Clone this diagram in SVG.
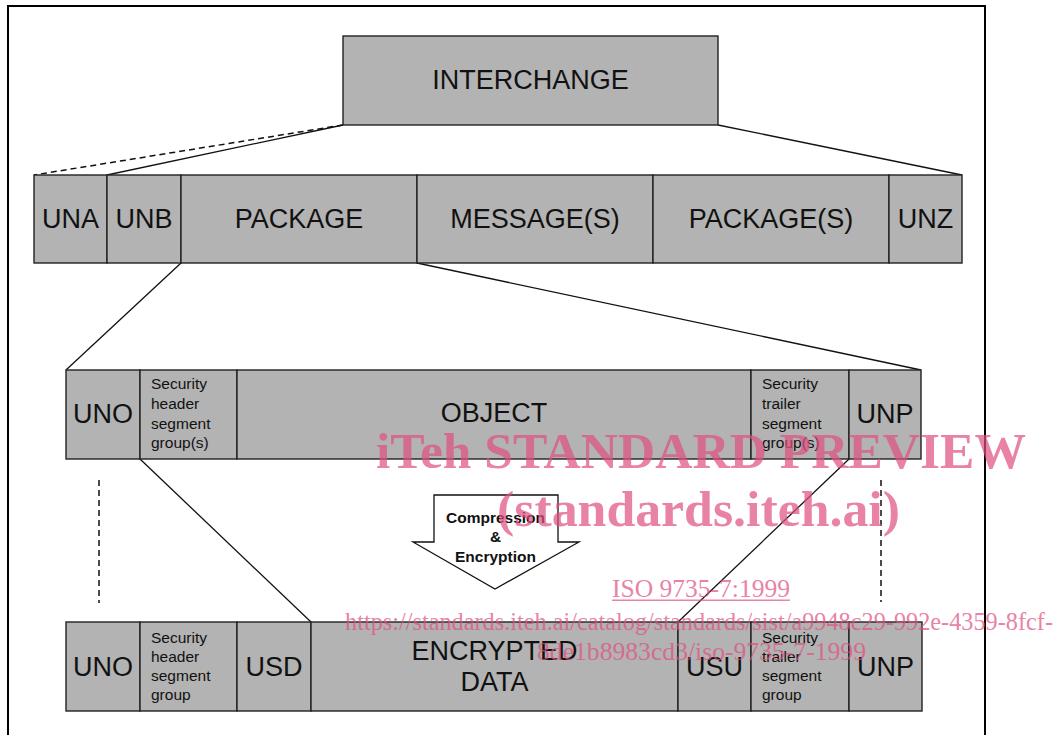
<svg xmlns="http://www.w3.org/2000/svg" width="1056" height="735" viewBox="0 0 1056 735">
<style>
.b{fill:#b3b3b3;stroke:#222;stroke-width:1.4}
.L{font-family:"Liberation Sans",Arial,sans-serif;font-size:27px;fill:#111;text-anchor:middle}
.s{font-family:"Liberation Sans",Arial,sans-serif;font-size:15.5px;fill:#111}
.c{stroke:#111;stroke-width:1.3;fill:none}
.d{stroke:#111;stroke-width:1.5;fill:none;stroke-dasharray:6,4}
.w{font-family:"Liberation Serif","Times New Roman",serif;fill:#e0507f;opacity:0.7}
</style>
<rect width="1056" height="735" fill="#fff"/>
<path d="M8,740 V6 H985 V740" fill="none" stroke="#000" stroke-width="2"/>

<g id="connectors">
<path class="d" d="M343,125 L34,175"/>
<path class="c" d="M343,125 L107,175"/>
<path class="c" d="M718,125 L962,175"/>
<path class="c" d="M181,263 L66,370"/>
<path class="c" d="M417,263 L921,370"/>
<path class="c" d="M140,459 L311,622"/>
<path class="c" d="M849,459 L678,622"/>
<path class="d" d="M99,480 V603"/>
<path class="d" d="M881,480 V602"/>
</g>

<g id="interchange"><rect class="b" x="343" y="36" width="375" height="89"/><text class="L" x="530.5" y="89">INTERCHANGE</text></g>

<g id="una"><rect class="b" x="34" y="175" width="73" height="88"/><text class="L" x="70.5" y="228">UNA</text></g>
<g id="unb"><rect class="b" x="107" y="175" width="74" height="88"/><text class="L" x="144" y="228">UNB</text></g>
<g id="package"><rect class="b" x="181" y="175" width="236" height="88"/><text class="L" x="299" y="228">PACKAGE</text></g>
<g id="messages"><rect class="b" x="417" y="175" width="236" height="88"/><text class="L" x="535" y="228">MESSAGE(S)</text></g>
<g id="packages"><rect class="b" x="653" y="175" width="236" height="88"/><text class="L" x="771" y="228">PACKAGE(S)</text></g>
<g id="unz"><rect class="b" x="889" y="175" width="73" height="88"/><text class="L" x="925.5" y="228">UNZ</text></g>

<g id="uno1"><rect class="b" x="66" y="370" width="74" height="89"/><text class="L" x="103" y="423">UNO</text></g>
<g id="sechdr1"><rect class="b" x="140" y="370" width="97" height="89"/><text class="s"><tspan x="151" y="389">Security</tspan><tspan x="151" y="409">header</tspan><tspan x="151" y="429">segment</tspan><tspan x="151" y="448">group(s)</tspan></text></g>
<g id="object"><rect class="b" x="237" y="370" width="514" height="89"/><text class="L" x="494" y="422">OBJECT</text></g>
<g id="sectrl1"><rect class="b" x="751" y="370" width="98" height="89"/><text class="s"><tspan x="762" y="389">Security</tspan><tspan x="762" y="409">trailer</tspan><tspan x="762" y="429">segment</tspan><tspan x="762" y="448">group(s)</tspan></text></g>
<g id="unp1"><rect class="b" x="849" y="370" width="72" height="89"/><text class="L" x="885" y="423">UNP</text></g>

<g id="arrow"><path d="M434,495 H558 V542 H579 L495,589 L413,542 H434 Z" fill="#fff" stroke="#111" stroke-width="1.3"/>
<text font-family="Liberation Sans,Arial,sans-serif" font-size="15.5" font-weight="bold" fill="#111" text-anchor="middle"><tspan x="495.5" y="523">Compression</tspan><tspan x="495.5" y="542">&amp;</tspan><tspan x="495.5" y="561.5">Encryption</tspan></text></g>

<g id="uno2"><rect class="b" x="66" y="622" width="74" height="89"/><text class="L" x="103" y="676">UNO</text></g>
<g id="sechdr2"><rect class="b" x="140" y="622" width="97" height="89"/><text class="s"><tspan x="151" y="643">Security</tspan><tspan x="151" y="662">header</tspan><tspan x="151" y="681">segment</tspan><tspan x="151" y="700">group</tspan></text></g>
<g id="usd"><rect class="b" x="237" y="622" width="74" height="89"/><text class="L" x="274" y="676">USD</text></g>
<g id="encdata"><rect class="b" x="311" y="622" width="367" height="89"/><text class="L"><tspan x="494.5" y="660">ENCRYPTED</tspan><tspan x="494.5" y="691">DATA</tspan></text></g>
<g id="usu"><rect class="b" x="678" y="622" width="73" height="89"/><text class="L" x="714.5" y="676">USU</text></g>
<g id="sectrl2"><rect class="b" x="751" y="622" width="98" height="89"/><text class="s"><tspan x="762" y="643">Security</tspan><tspan x="762" y="662">trailer</tspan><tspan x="762" y="681">segment</tspan><tspan x="762" y="700">group</tspan></text></g>
<g id="unp2"><rect class="b" x="849" y="622" width="73" height="89"/><text class="L" x="885.5" y="676">UNP</text></g>

<g id="watermark">
<text class="w" x="376" y="468" font-size="50" font-weight="bold" textLength="650" lengthAdjust="spacingAndGlyphs">iTeh STANDARD PREVIEW</text>
<text class="w" x="497" y="526" font-size="50" font-weight="bold" textLength="403" lengthAdjust="spacingAndGlyphs">(standards.iteh.ai)</text>
<text class="w" x="612" y="597" font-size="25" textLength="178" lengthAdjust="spacingAndGlyphs">ISO 9735-7:1999</text>
<rect x="612" y="599.5" width="178" height="1.5" fill="#e0507f" opacity="0.7"/>
<text class="w" x="345" y="630" font-size="25" textLength="708" lengthAdjust="spacingAndGlyphs">https://standards.iteh.ai/catalog/standards/sist/a9948c29-992e-4359-8fcf-</text>
<text class="w" x="537" y="660" font-size="25" textLength="329" lengthAdjust="spacingAndGlyphs">8de1b8983cd3/iso-9735-7-1999</text>
</g>
</svg>
